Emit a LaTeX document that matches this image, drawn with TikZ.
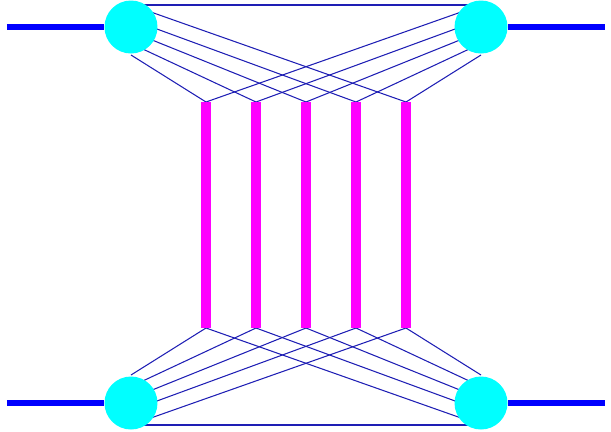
\documentclass[tikz,border=0pt]{standalone}
\usetikzlibrary{arrows}
\definecolor{wirecol}{RGB}{30,30,180}
\definecolor{blobcol}{RGB}{0,255,255}
\definecolor{rungcol}{RGB}{255,0,255}
\definecolor{legcol}{RGB}{0,0,255}
\begin{document}
\begin{tikzpicture}
    \useasboundingbox (-6.12,-4.32) rectangle (6.1,4.3);
    \tikzset{blob/.style = {shape=circle,fill=blobcol,minimum size=1.06cm,inner sep=0pt}}
    \tikzset{leg/.style = {draw=legcol,line width=3.4pt}}
    \tikzset{rung/.style = {draw=rungcol,line width=6.2pt}}
    \tikzset{wire/.style = {draw=wirecol,line width=0.6pt}}
    % ends of the rungs
    \foreach \i/\x in {1/-2,2/-1,3/0,4/1,5/2} {
        \coordinate (t\i) at (\x,2.26);
        \coordinate (b\i) at (\x,-2.26);
    }
    % points inside the blobs
    \foreach \i/\o in {1/-0.56,2/-0.33,3/-0.09,4/0.15,5/0.44} {
        \pgfmathtruncatemacro\j{6-\i}
        \coordinate (nw\i) at (-3.5,{3.76+(\o)});
        \coordinate (ne\j) at (3.5,{3.76+(\o)});
        \coordinate (sw\i) at (-3.5,{-3.76-(\o)});
        \coordinate (se\j) at (3.5,{-3.76-(\o)});
    }
    %edges
    \foreach \i in {1,...,5}
        \draw[wire] (nw\i) -- (t\i) (ne\i) -- (t\i) (sw\i) -- (b\i) (se\i) -- (b\i);
    \draw[wire] (nw5) -- (ne1);
    \draw[wire] (sw5) -- (se1);
    % rungs
    \foreach \i in {1,...,5}
        \draw[rung] (t\i) -- (b\i);
    % vertices
    \node[blob] (nw) at (-3.5,3.76) {};
    \node[blob] (ne) at (3.5,3.76) {};
    \node[blob] (sw) at (-3.5,-3.76) {};
    \node[blob] (se) at (3.5,-3.76) {};
    % legs
    \coordinate (inw) at (-5.98,3.76);
    \coordinate (one) at (5.98,3.76);
    \coordinate (isw) at (-5.98,-3.76);
    \coordinate (ose) at (5.98,-3.76);
    \draw[leg] (inw) -- (nw);
    \draw[leg] (ne) -- (one);
    \draw[leg] (isw) -- (sw);
    \draw[leg] (se) -- (ose);
\end{tikzpicture}
\end{document}
